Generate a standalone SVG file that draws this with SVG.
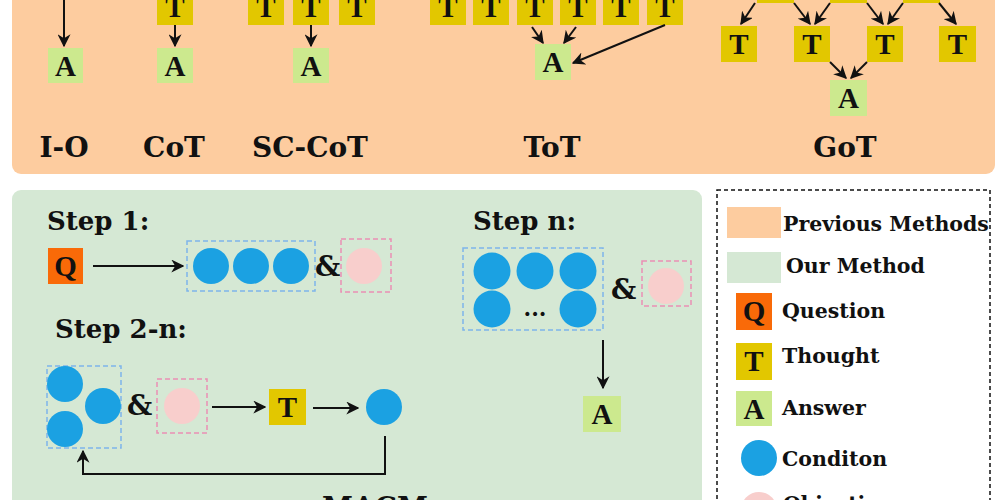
<svg xmlns="http://www.w3.org/2000/svg" width="1000" height="500" viewBox="0 0 1000 500">
<defs>
<style>
.lbl{font-family:"DejaVu Serif","Liberation Serif",serif;font-weight:bold;fill:#111}
.big{font-size:28px}
.step{font-size:26px}
.leg{font-size:20.5px}
.amp{font-family:"DejaVu Serif","Liberation Serif",serif;font-weight:bold;font-size:28px;fill:#111}
.ltr{font-family:"Liberation Serif","DejaVu Serif",serif;font-weight:bold;font-size:29px;fill:#111;text-anchor:middle}
.T{fill:#E2C700}
.A{fill:#CCE98E}
.Q{fill:#F96A08}
.cond{fill:#1BA1E2}
.obj{fill:#F8CECC}
.bdash{fill:none;stroke:#7EB4EA;stroke-width:1.5;stroke-dasharray:5,3}
.pdash{fill:none;stroke:#EA8FB4;stroke-width:1.5;stroke-dasharray:5,3}
.edge{fill:none;stroke:#111;stroke-width:2;marker-end:url(#ah)}
</style>
<marker id="ah" viewBox="0 0 10 10" refX="9" refY="5" markerWidth="6.5" markerHeight="6.5" orient="auto" markerUnits="strokeWidth">
<path d="M0,0 L10,5 L0,10 L3,5 z" fill="#111"/>
</marker>
</defs>

<rect width="1000" height="500" fill="#ffffff"/>

<!-- panels -->
<g id="prev-panel"><rect x="12" y="-20" width="983" height="194" rx="9" fill="#FDCC9F"/></g>
<g id="our-panel"><rect x="12" y="190" width="690" height="340" rx="9" fill="#D5E8D4"/></g>

<!-- I-O -->
<g id="io">
<rect class="A" x="48" y="48" width="35" height="35"/><text class="ltr" x="65.5" y="76">A</text>
<text class="lbl big" x="64" y="157" text-anchor="middle">I-O</text>
</g>

<!-- CoT -->
<g id="cot">
<rect class="T" x="157" y="-11" width="36" height="36"/><text class="ltr" x="175" y="17">T</text>
<rect class="A" x="157" y="48" width="36" height="35"/><text class="ltr" x="175" y="76">A</text>
<text class="lbl big" x="174" y="157" text-anchor="middle">CoT</text>
</g>

<!-- SC-CoT -->
<g id="sccot">
<rect class="T" x="248" y="-11" width="36" height="36"/><text class="ltr" x="266" y="17">T</text>
<rect class="T" x="293" y="-11" width="36" height="36"/><text class="ltr" x="311" y="17">T</text>
<rect class="T" x="339" y="-11" width="36" height="36"/><text class="ltr" x="357" y="17">T</text>
<rect class="A" x="293" y="48" width="36" height="35"/><text class="ltr" x="311" y="76">A</text>
<text class="lbl big" x="310" y="157" text-anchor="middle">SC-CoT</text>
</g>

<!-- ToT -->
<g id="tot">
<rect class="T" x="430" y="-11" width="36" height="36"/><text class="ltr" x="448" y="17">T</text>
<rect class="T" x="473" y="-11" width="36" height="36"/><text class="ltr" x="491" y="17">T</text>
<rect class="T" x="517" y="-11" width="36" height="36"/><text class="ltr" x="535" y="17">T</text>
<rect class="T" x="560" y="-11" width="36" height="36"/><text class="ltr" x="578" y="17">T</text>
<rect class="T" x="603" y="-11" width="36" height="36"/><text class="ltr" x="621" y="17">T</text>
<rect class="T" x="647" y="-11" width="36" height="36"/><text class="ltr" x="665" y="17">T</text>
<rect class="A" x="535" y="44" width="36" height="36"/><text class="ltr" x="553" y="72">A</text>
<text class="lbl big" x="552" y="157" text-anchor="middle">ToT</text>
</g>

<!-- GoT -->
<g id="got">
<rect class="T" x="757" y="-34" width="37" height="37"/>
<rect class="T" x="830" y="-34" width="37" height="37"/>
<rect class="T" x="903" y="-34" width="37" height="37"/>
<rect class="T" x="721" y="26" width="36" height="36"/><text class="ltr" x="739" y="54">T</text>
<rect class="T" x="794" y="26" width="36" height="36"/><text class="ltr" x="812" y="54">T</text>
<rect class="T" x="867" y="26" width="36" height="36"/><text class="ltr" x="885" y="54">T</text>
<rect class="T" x="939" y="26" width="37" height="36"/><text class="ltr" x="957.5" y="54">T</text>
<rect class="A" x="830" y="80" width="37" height="36"/><text class="ltr" x="848.5" y="108">A</text>
<text class="lbl big" x="845" y="157" text-anchor="middle">GoT</text>
</g>

<!-- Step 1 -->
<g id="step1">
<text class="lbl step" x="47" y="230">Step 1:</text>
<rect class="Q" x="48" y="248" width="35" height="36"/><text class="ltr" x="65.5" y="276">Q</text>
<rect class="bdash" x="187" y="241" width="128" height="50"/>
<circle class="cond" cx="211" cy="266" r="18"/>
<circle class="cond" cx="251" cy="266" r="18"/>
<circle class="cond" cx="291" cy="266" r="18"/>
<text class="amp" x="315" y="276">&amp;</text>
<rect class="pdash" x="341" y="239" width="50" height="53"/>
<circle class="obj" cx="364" cy="266" r="18"/>
</g>

<!-- Step 2-n -->
<g id="step2n">
<text class="lbl step" x="55" y="338">Step 2-n:</text>
<rect class="bdash" x="47" y="366" width="74" height="82"/>
<circle class="cond" cx="65" cy="384" r="18"/>
<circle class="cond" cx="103" cy="406" r="18"/>
<circle class="cond" cx="65" cy="429" r="18"/>
<text class="amp" x="127" y="415">&amp;</text>
<rect class="pdash" x="157" y="379" width="50" height="54"/>
<circle class="obj" cx="182" cy="406" r="18"/>
<rect class="T" x="269" y="389" width="37" height="36"/><text class="ltr" x="287.5" y="417">T</text>
<circle class="cond" cx="384" cy="407" r="18"/>
</g>

<!-- Step n -->
<g id="stepn">
<text class="lbl step" x="473" y="230">Step n:</text>
<rect class="bdash" x="463" y="248" width="140" height="82"/>
<circle class="cond" cx="492" cy="271" r="18.5"/>
<circle class="cond" cx="535" cy="271" r="18.5"/>
<circle class="cond" cx="578" cy="271" r="18.5"/>
<circle class="cond" cx="492" cy="309" r="18.5"/>
<circle class="cond" cx="578" cy="309" r="18.5"/>
<text class="lbl" x="535" y="316" font-size="22" text-anchor="middle">...</text>
<text class="amp" x="611" y="299">&amp;</text>
<rect class="pdash" x="642" y="261" width="49" height="45"/>
<circle class="obj" cx="666" cy="286" r="18"/>
<rect class="A" x="583" y="396" width="38" height="36"/><text class="ltr" x="602" y="424">A</text>
</g>

<g id="macm-label"><text class="lbl big" x="375" y="517" text-anchor="middle">MACM</text></g>

<!-- Legend -->
<g id="legend">
<rect x="717" y="190" width="273" height="340" fill="none" stroke="#111" stroke-width="1.5" stroke-dasharray="4,3"/>
<rect x="727" y="207" width="54" height="31" fill="#FDCC9F"/>
<text class="lbl leg" x="783" y="231">Previous Methods</text>
<rect x="727" y="252" width="54" height="31" fill="#D5E8D4"/>
<text class="lbl leg" x="786" y="273">Our Method</text>
<rect class="Q" x="736" y="293" width="36" height="37"/><text class="ltr" x="754" y="321">Q</text>
<text class="lbl leg" x="782" y="318">Question</text>
<rect class="T" x="736" y="343" width="36" height="37"/><text class="ltr" x="754" y="371">T</text>
<text class="lbl leg" x="782" y="363">Thought</text>
<rect class="A" x="736" y="391" width="36" height="35"/><text class="ltr" x="754" y="419">A</text>
<text class="lbl leg" x="782" y="415">Answer</text>
<circle class="cond" cx="759" cy="458" r="18"/>
<text class="lbl leg" x="782" y="466">Conditon</text>
<circle class="obj" cx="759" cy="510" r="18"/>
<text class="lbl leg" x="783" y="511">Objective</text>
</g>

<!-- connectors -->
<g id="connectors">
<line class="edge" x1="64" y1="-5" x2="64" y2="46"/>
<line class="edge" x1="175" y1="25" x2="175" y2="46"/>
<line class="edge" x1="311" y1="25" x2="311" y2="46"/>
<line class="edge" x1="532" y1="27" x2="543" y2="43"/>
<line class="edge" x1="576" y1="27" x2="564" y2="43"/>
<line class="edge" x1="665" y1="25" x2="573" y2="63"/>
<line class="edge" x1="755" y1="3" x2="741" y2="24"/>
<line class="edge" x1="794" y1="3" x2="810" y2="24"/>
<line class="edge" x1="830" y1="3" x2="815" y2="24"/>
<line class="edge" x1="867" y1="3" x2="883" y2="24"/>
<line class="edge" x1="903" y1="3" x2="888" y2="24"/>
<line class="edge" x1="939" y1="3" x2="956" y2="24"/>
<line class="edge" x1="830" y1="62" x2="846" y2="78"/>
<line class="edge" x1="867" y1="62" x2="851" y2="78"/>
<line class="edge" x1="93" y1="266" x2="183" y2="266"/>
<line class="edge" x1="212" y1="407" x2="265" y2="407"/>
<line class="edge" x1="313" y1="408" x2="358" y2="408"/>
<polyline class="edge" points="385,436 385,474 83,474 83,451"/>
<line class="edge" x1="603" y1="340" x2="603" y2="388"/>
</g>
</svg>
